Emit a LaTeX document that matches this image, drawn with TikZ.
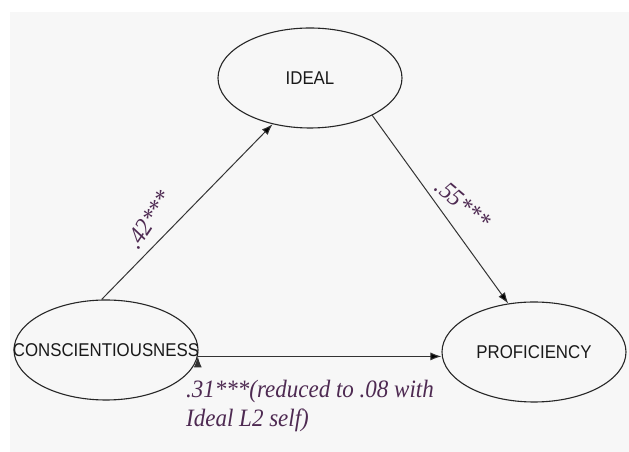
\documentclass[tikz,border=0pt]{standalone}
\usepackage{fontspec}
\setmainfont{Liberation Serif}
\newfontfamily\varfont[FakeStretch=0.91]{Liberation Sans}
\newfontfamily\coeffont[FakeStretch=0.92]{Liberation Serif}
\usetikzlibrary{
        arrows.meta,
        shapes.geometric,
        positioning
    }
\definecolor{coefpurple}{RGB}{78,42,82}
\definecolor{panelgray}{RGB}{247,247,247}
\tikzset{>={Latex[length=11pt,width=8pt]},auto}
\tikzset{latent/.style={draw=black!85,line width=1.1pt,ellipse,minimum width=184pt,minimum height=100pt,inner sep=0pt}}
\tikzset{latent text/.style={font=\varfont\fontsize{18.5}{22}\selectfont,text=black!90}}
\tikzset{coef/.style={font=\coeffont\itshape\fontsize{25}{29}\selectfont,text=coefpurple,inner sep=0pt}}

\begin{document}
\begin{tikzpicture}[x=1pt,y=1pt]
            \useasboundingbox (0,0) rectangle (629,452);
            \fill[white] (0,0) rectangle (629,452);
            \fill[panelgray] (10,0) rectangle (629,440);
            \node[latent,label={[latent text]center:IDEAL}] (ideal) at (310,374) {};
            \node[latent,label={[latent text]center:CONSCIENTIOUSNESS}] (consc) at (106,102) {};
            \node[latent,label={[latent text]center:PROFICIENCY}] (prof) at (534,100) {};
            \coordinate (cstart) at (consc.-4);
            \coordinate (pend) at (cstart -| prof.west);
            \path[->,draw=black!80,line width=1pt]
                (consc.95)  edge (ideal.231)
                (ideal.329.6)  edge (prof.118.4)
                (cstart)  edge (pend)
            ;
            \node[coef,rotate=56] (ci) at (149,232) {.42***};
            \node[coef,rotate=-40] (ip) at (463,248) {.55***};
            \node[coef,anchor=north west,align=left] (cp) at (186,72) {.31***(reduced to .08 with\\Ideal L2 self)};
        \end{tikzpicture}
\end{document}
